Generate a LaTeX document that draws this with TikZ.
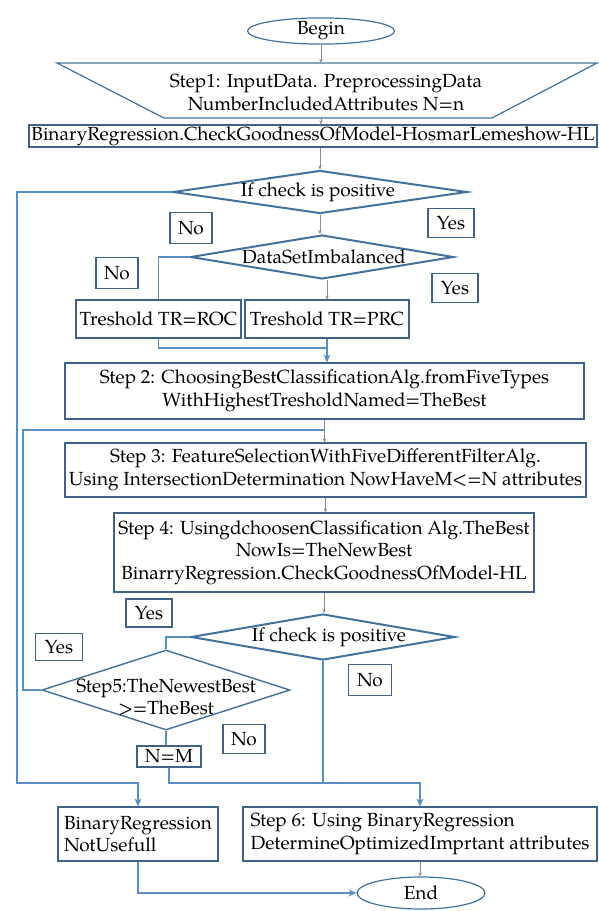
\documentclass[tikz,border=0pt]{standalone}
\usepackage{fontspec}
\setmainfont{TeX Gyre Pagella}
\usetikzlibrary{shapes.geometric,arrows.meta}
\definecolor{diacol}{HTML}{41719C}
\definecolor{boxcol}{HTML}{3E6288}
\definecolor{linecol}{HTML}{5B8EC4}
\definecolor{graycol}{HTML}{8C8C8C}
\begin{document}
\begin{tikzpicture}[x=1pt,y=-1pt,
  font=\fontsize{19}{22.5}\selectfont,
  box/.style={draw=boxcol, line width=1.2pt, rectangle, inner sep=0pt, align=center},
  lbl/.style={draw=boxcol, line width=1.3pt, rectangle, inner sep=0pt},
  dia/.style={draw=diacol, line width=2pt, diamond, inner sep=0pt},
  ell/.style={draw=diacol, line width=1.2pt, ellipse, inner sep=0pt},
  conn/.style={draw=linecol, line width=1.4pt},
  arr/.style={conn, -{Stealth[length=8pt,width=7pt]}},
  garr/.style={draw=graycol, line width=0.8pt, -{Stealth[length=4pt,width=3.5pt]}},
  txt/.style={inner sep=0pt, align=center}]
\useasboundingbox (0,0) rectangle (598,911);

% Begin
\node[ell, minimum width=147pt, minimum height=26pt] (begin) at (321,31) {Begin};
% Step 1 trapezoid
\draw[draw=diacol, line width=1.2pt] (57,63) -- (597,63) -- (492,118) -- (164,118) -- cycle;
\coordinate (trtop) at (321,63);
\coordinate (trbot) at (321,118);
\node[txt] (step1) at (326,92.5) {Step1: InputData. PreprocessingData\\NumberIncludedAttributes N=n};
% HL box
\node[box, minimum width=568pt, minimum height=22pt] (hl) at (313,136) {BinaryRegression.CheckGoodnessOfModel-HosmarLemeshow-HL};
% diamond 1
\node[dia, minimum width=294pt, minimum height=43pt] (d1) at (320,192) {};
\node[txt] (d1t) at (318,192) {If check is positive};
% diamond 2
\node[dia, minimum width=263pt, minimum height=44pt] (d2) at (322,257) {};
\node[txt] (d2t) at (324,257) {DataSetImbalanced};
% thresholds
\node[box, minimum width=165pt, minimum height=38pt] (roc) at (158.5,319) {Treshold TR=ROC};
\node[box, minimum width=164pt, minimum height=38pt] (prc) at (327,319) {Treshold TR=PRC};
% steps
\node[box, minimum width=519pt, minimum height=56pt] (s2) at (324.5,391) {Step 2: ChoosingBestClassificationAlg.fromFiveTypes\\WithHighestTresholdNamed=TheBest};
\node[box, minimum width=521pt, minimum height=54pt] (s3) at (325.5,470) {Step 3: FeatureSelectionWithFiveDifferentFilterAlg.\\Using IntersectionDetermination NowHaveM<=N attributes};
\node[box, minimum width=420pt, minimum height=79pt] (s4) at (324,552.5) {Step 4: UsingdchoosenClassification Alg.TheBest\\NowIs=TheNewBest\\BinarryRegression.CheckGoodnessOfModel-HL};
% diamond 3
\node[dia, minimum width=264pt, minimum height=46pt] (d3) at (323,637) {};
\node[txt] (d3t) at (329,637) {If check is positive};
% step 5 diamond
\node[dia, line width=1.4pt, minimum width=248pt, minimum height=80pt] (s5) at (166,690) {};
\node[txt] (s5t) at (166,697) {Step5:TheNewestBest\\>=TheBest};
% N=M
\node[lbl, minimum width=64pt, minimum height=21pt] (nm) at (169,756.5) {N=M};
% bottom boxes
\node[box, minimum width=160pt, minimum height=54pt, align=left] (nu) at (138,834) {BinaryRegression\\NotUsefull};
\node[box, minimum width=354pt, minimum height=54pt, align=left] (s6) at (420,834) {Step 6: Using BinaryRegression\\DetermineOptimizedImprtant attributes};
\node[ell, minimum width=128pt, minimum height=32pt] (end) at (421,893) {End};

% Yes / No labels
\node[lbl, minimum width=42pt, minimum height=31pt] (no1) at (191,228) {No};
\node[lbl, minimum width=46pt, minimum height=29pt] (yes1) at (451,223) {Yes};
\node[lbl, minimum width=42pt, minimum height=31pt] (no2) at (117,273) {No};
\node[lbl, minimum width=46pt, minimum height=29pt] (yes2) at (455,288) {Yes};
\node[lbl, minimum width=46pt, minimum height=28pt] (yes3) at (149,613) {Yes};
\node[lbl, minimum width=47pt, minimum height=27pt] (yes4) at (59,647) {Yes};
\node[lbl, minimum width=43pt, minimum height=31pt] (no3) at (370,680) {No};
\node[lbl, minimum width=42pt, minimum height=29pt] (no4) at (244,739) {No};

% coordinates for routing
\coordinate (L1) at (17,783);
\coordinate (L2) at (23,430);
\coordinate (j1) at (327,348);
\coordinate (j2) at (324.5,430);
\coordinate (j3) at (420,783);

% gray arrows
\draw[garr] (begin.south) -- (trtop);
\draw[garr] (trbot) -- (trbot |- hl.north);
\draw[garr] (d1.north |- hl.south) -- (d1.north);
\draw[garr] (d1.south) -- (d1.south |- d2.north);
\draw[garr] (prc.north |- d2.south) -- (prc.north);
\draw[garr] (s2.south) -- (s2.south |- s3.north);
\draw[garr] (s3.south) -- (s3.south |- s4.north);
\draw[garr] (s4.south) -- (s4.south |- d3.north);
\draw[garr] (s6.south) -- (s6.south |- end.north);

% blue connectors
\draw[arr] (d1.west) -| (L1) -| (nu.north);
\draw[conn] (d2.west) -| (roc.north);
\draw[conn] (roc.south) |- (j1);
\draw[arr] (prc.south) -- (prc.south |- s2.north);
\draw[conn] (s5.west) -| (L2) -- (j2);
\draw[conn] (d3.west) -| (s5.north);
\draw[conn] (s5.south) -- (s5.south |- nm.north);
\draw[arr] (nm.south) |- (j3) -- (s6.north);
\draw[conn] (d3.south) -- (d3.south |- j3);
\draw[arr] (nu.south) |- (end.west);
\end{tikzpicture}
\end{document}
